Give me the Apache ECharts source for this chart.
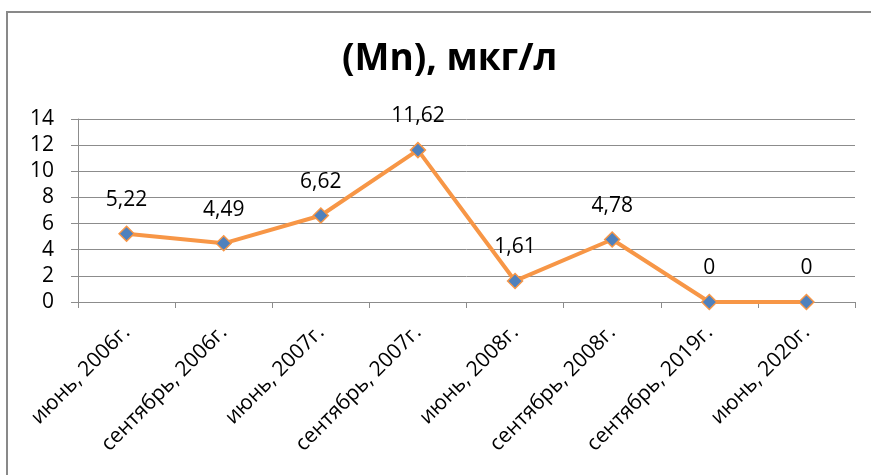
<!DOCTYPE html>
<html><head><meta charset="utf-8">
<script src="https://cdn.jsdelivr.net/npm/echarts@6/dist/echarts.min.js"></script>
<style>html,body{margin:0;padding:0;background:#fff}#c{width:871px;height:475px}</style>
</head><body><div id="c"></div>
<script>
const titleText = "(Mn), мкг/л";
const categories = ["июнь, 2006г.","сентябрь, 2006г.","июнь, 2007г.","сентябрь, 2007г.","июнь, 2008г.","сентябрь, 2008г.","сентябрь, 2019г.","июнь, 2020г."];
const values = [5.22, 4.49, 6.62, 11.62, 1.61, 4.78, 0, 0];
const yTicks = {min: 0, max: 14, interval: 2};

const chart = echarts.init(document.getElementById('c'));
const fam = "'Open Sans', 'Liberation Sans', sans-serif";
chart.setOption({
  animation: false,
  title: {text: titleText, left: 337, top: 36, textStyle: {fontFamily: fam, fontWeight: 'bold', fontSize: 37, color: '#000'}},
  graphic: [{type: 'rect', shape: {x: 7, y: 12, width: 900, height: 500}, style: {fill: 'none', stroke: '#898989', lineWidth: 2}, silent: true}],
  grid: {left: 78, right: 16, top: 119, bottom: 173, containLabel: false},
  xAxis: {type: 'category', data: categories, boundaryGap: true,
    axisLine: {lineStyle: {color: '#8c8c8c', width: 1}},
    axisTick: {show: true, length: 6, lineStyle: {color: '#8c8c8c'}},
    axisLabel: {rotate: 45, interval: 0, fontFamily: fam, fontSize: 21, color: '#000', margin: 27}},
  yAxis: {type: 'value', min: yTicks.min, max: yTicks.max, interval: yTicks.interval,
    axisLine: {show: true, lineStyle: {color: '#8c8c8c'}},
    axisTick: {show: true, length: 7, lineStyle: {color: '#8c8c8c'}},
    splitLine: {lineStyle: {color: '#8c8c8c', width: 1}},
    axisLabel: {fontFamily: fam, fontSize: 21, color: '#000', margin: 24,
      formatter: v => String(v)}},
  series: [{type: 'line', data: values, symbol: 'diamond', symbolSize: 15,
    lineStyle: {color: '#F79646', width: 4},
    itemStyle: {color: '#4F81BD', borderColor: '#F79646', borderWidth: 1.5},
    label: {show: true, position: 'top', distance: 15, fontFamily: fam, fontSize: 21, color: '#000',
      formatter: p => String(p.value).replace('.', ',')}}]
});
</script></body></html>
